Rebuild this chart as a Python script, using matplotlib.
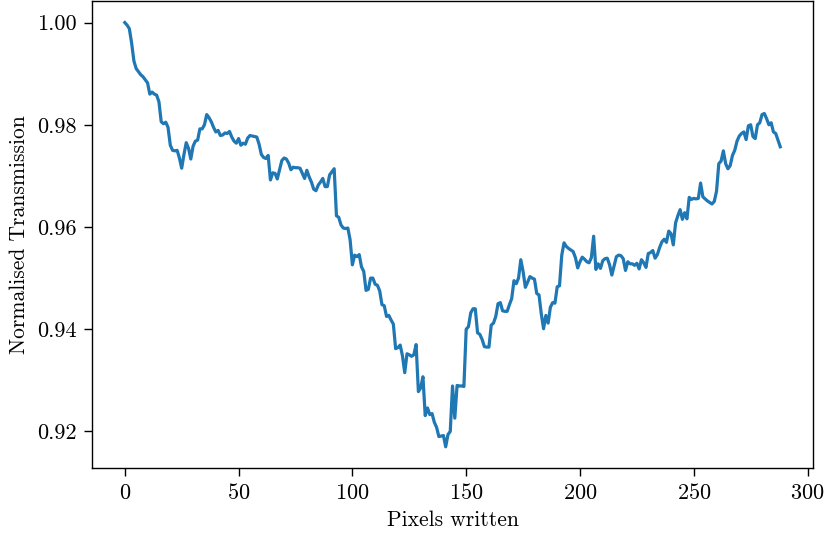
import numpy as np
import matplotlib
matplotlib.use('Agg')
import matplotlib.pyplot as plt

plt.rcParams['font.family'] = 'serif'
plt.rcParams['font.serif'] = ['cmr10', 'DejaVu Serif']
plt.rcParams['axes.formatter.use_mathtext'] = True
plt.rcParams['mathtext.fontset'] = 'cm'

# transmission, one value per pixel written
transmission = [
    1.0000, 0.9995, 0.9988, 0.9960, 0.9925, 0.9910, 0.9904, 0.9898, 0.9894, 0.9888,
    0.9882, 0.9860, 0.9864, 0.9860, 0.9858, 0.9845, 0.9806, 0.9802, 0.9805, 0.9795,
    0.9760, 0.9750, 0.9749, 0.9750, 0.9735, 0.9715, 0.9742, 0.9765, 0.9754, 0.9733,
    0.9758, 0.9768, 0.9770, 0.9792, 0.9792, 0.9800, 0.9820, 0.9814, 0.9806, 0.9795,
    0.9786, 0.9789, 0.9779, 0.9780, 0.9784, 0.9783, 0.9787, 0.9776, 0.9768, 0.9764,
    0.9773, 0.9760, 0.9764, 0.9762, 0.9774, 0.9779, 0.9778, 0.9777, 0.9776, 0.9762,
    0.9742, 0.9736, 0.9734, 0.9740, 0.9692, 0.9706, 0.9705, 0.9694, 0.9712, 0.9730,
    0.9735, 0.9733, 0.9725, 0.9712, 0.9717, 0.9716, 0.9716, 0.9715, 0.9705, 0.9695,
    0.9711, 0.9698, 0.9688, 0.9674, 0.9671, 0.9682, 0.9688, 0.9695, 0.9679, 0.9679,
    0.9702, 0.9708, 0.9714, 0.9622, 0.9619, 0.9604, 0.9598, 0.9597, 0.9598, 0.9575,
    0.9526, 0.9545, 0.9542, 0.9546, 0.9522, 0.9513, 0.9476, 0.9478, 0.9500, 0.9500,
    0.9488, 0.9486, 0.9475, 0.9448, 0.9446, 0.9425, 0.9427, 0.9418, 0.9410, 0.9362,
    0.9364, 0.9369, 0.9348, 0.9315, 0.9352, 0.9350, 0.9347, 0.9350, 0.9370, 0.9278,
    0.9285, 0.9307, 0.9231, 0.9246, 0.9233, 0.9235, 0.9218, 0.9208, 0.9190, 0.9191,
    0.9192, 0.9170, 0.9194, 0.9200, 0.9289, 0.9226, 0.9290, 0.9289, 0.9289, 0.9288,
    0.9400, 0.9405, 0.9432, 0.9440, 0.9440, 0.9393, 0.9390, 0.9380, 0.9366, 0.9365,
    0.9365, 0.9408, 0.9412, 0.9425, 0.9450, 0.9452, 0.9436, 0.9435, 0.9435, 0.9448,
    0.9460, 0.9495, 0.9489, 0.9500, 0.9536, 0.9513, 0.9482, 0.9492, 0.9503, 0.9500,
    0.9498, 0.9470, 0.9467, 0.9430, 0.9401, 0.9427, 0.9412, 0.9443, 0.9452, 0.9451,
    0.9483, 0.9485, 0.9545, 0.9569, 0.9562, 0.9558, 0.9555, 0.9552, 0.9540, 0.9520,
    0.9532, 0.9541, 0.9537, 0.9532, 0.9530, 0.9540, 0.9582, 0.9517, 0.9528, 0.9519,
    0.9534, 0.9538, 0.9539, 0.9526, 0.9506, 0.9524, 0.9542, 0.9545, 0.9544, 0.9538,
    0.9515, 0.9532, 0.9528, 0.9528, 0.9525, 0.9529, 0.9518, 0.9536, 0.9530, 0.9521,
    0.9548, 0.9550, 0.9554, 0.9539, 0.9546, 0.9560, 0.9571, 0.9576, 0.9570, 0.9592,
    0.9587, 0.9565, 0.9608, 0.9622, 0.9634, 0.9615, 0.9628, 0.9616, 0.9658, 0.9654,
    0.9656, 0.9655, 0.9656, 0.9686, 0.9659, 0.9655, 0.9651, 0.9648, 0.9645, 0.9650,
    0.9670, 0.9724, 0.9729, 0.9749, 0.9724, 0.9714, 0.9720, 0.9740, 0.9750, 0.9768,
    0.9778, 0.9783, 0.9786, 0.9771, 0.9798, 0.9800, 0.9777, 0.9773, 0.9800, 0.9804,
    0.9820, 0.9822, 0.9812, 0.9800, 0.9804, 0.9786, 0.9783, 0.9770, 0.9757,
]
pixels = np.arange(len(transmission))

fig = plt.figure(figsize=(8.26, 5.37), dpi=100)
ax = fig.add_axes([0.1114, 0.1285, 0.8729, 0.869])
ax.plot(pixels, transmission, color='#1f77b4', linewidth=2.3)
ax.set_xticks([0, 50, 100, 150, 200, 250, 300])
ax.set_yticks([0.92, 0.94, 0.96, 0.98, 1.00])
ax.set_yticklabels(['0.92', '0.94', '0.96', '0.98', '1.00'])
ax.tick_params(labelsize=16, length=6, width=1, pad=5)
ax.set_xlabel('Pixels written', fontsize=15.5, labelpad=5)
ax.set_ylabel('Normalised Transmission', fontsize=15.5, labelpad=6)
for s in ax.spines.values():
    s.set_linewidth(1.0)

fig.savefig('out.png', dpi=100)
print("Saved out.png")
